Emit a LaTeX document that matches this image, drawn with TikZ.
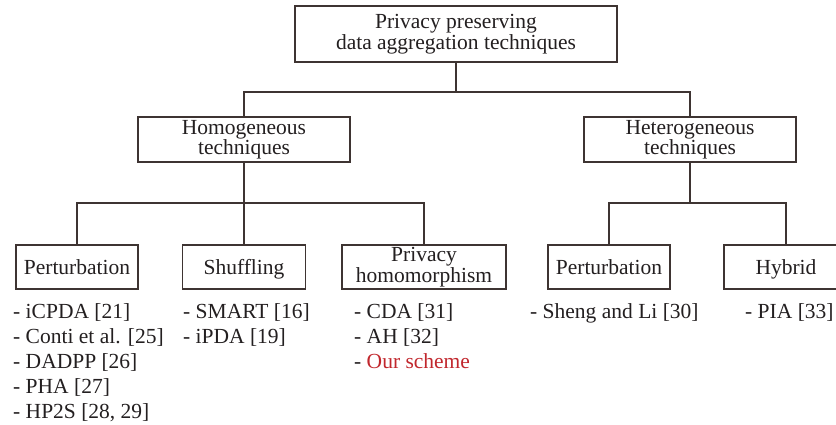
\documentclass[tikz,border=0pt]{standalone}
\usepackage{fontspec}
\setmainfont{Liberation Serif}
\definecolor{linecol}{RGB}{62,52,50}
\definecolor{txt}{RGB}{35,31,32}
\definecolor{ourred}{RGB}{193,39,45}
\begin{document}
\begin{tikzpicture}[x=1pt,y=-1pt,
  box/.style={draw=linecol, line width=1.2pt, inner sep=0pt, align=center,
    text=txt, font=\fontsize{21.5}{20.5}\selectfont},
  onebox/.style={box, text height=16pt, text depth=2pt},
  item/.style={anchor=base west, inner sep=0pt, text=txt,
    font=\fontsize{21.5}{25}\selectfont},
  link/.style={draw=linecol, line width=1.2pt}]
\useasboundingbox (0,0) rectangle (836,425);

% taxonomy boxes
\node[box, minimum width=322pt, minimum height=56pt] (root) at (456,34)
  {Privacy preserving\\data aggregation techniques};
\node[box, minimum width=212pt, minimum height=45pt] (homo) at (244,139.5)
  {Homogeneous\\techniques};
\node[box, minimum width=212pt, minimum height=45pt] (hetero) at (690,139.5)
  {Heterogeneous\\techniques};
\node[onebox, minimum width=122pt, minimum height=44pt] (pert1) at (77,267) {Perturbation};
\node[onebox, minimum width=123pt, minimum height=44pt] (shuf) at (244,267) {Shuffling};
\node[box, minimum width=164pt, minimum height=44pt] (privhom) at (424,267)
  {Privacy\\homomorphism};
\node[onebox, minimum width=122pt, minimum height=44pt] (pert2) at (609,267) {Perturbation};
\node[onebox, minimum width=124pt, minimum height=44pt] (hybrid) at (786,267) {Hybrid};

% tree connectors
\coordinate (j0) at (456,92);
\coordinate (j1) at (244,203);
\coordinate (j2) at (690,203);
\draw[link] (root.south) -- (j0);
\draw[link] (homo.north) |- (j0) -| (hetero.north);
\draw[link] (homo.south) -- (j1);
\draw[link] (shuf.north) -- (j1);
\draw[link] (pert1.north) |- (j1) -| (privhom.north);
\draw[link] (hetero.south) -- (j2);
\draw[link] (pert2.north) |- (j2) -| (hybrid.north);

% references under each technique
\node[item] (a1) at (13,318) {- iCPDA [21]};
\node[item] (a2) at (13,343) {- Conti et al. [25]};
\node[item] (a3) at (13,368) {- DADPP [26]};
\node[item] (a4) at (13,393) {- PHA [27]};
\node[item] (a5) at (13,418) {- HP2S [28, 29]};
\node[item] (b1) at (183,318) {- SMART [16]};
\node[item] (b2) at (183,343) {- iPDA [19]};
\node[item] (c1) at (354,318) {- CDA [31]};
\node[item] (c2) at (354,343) {- AH [32]};
\node[item] (c3) at (354,368) {- \textcolor{ourred}{Our scheme}};
\node[item] (d1) at (530,318) {- Sheng and Li [30]};
\node[item] (e1) at (745,318) {- PIA [33]};
\end{tikzpicture}
\end{document}
